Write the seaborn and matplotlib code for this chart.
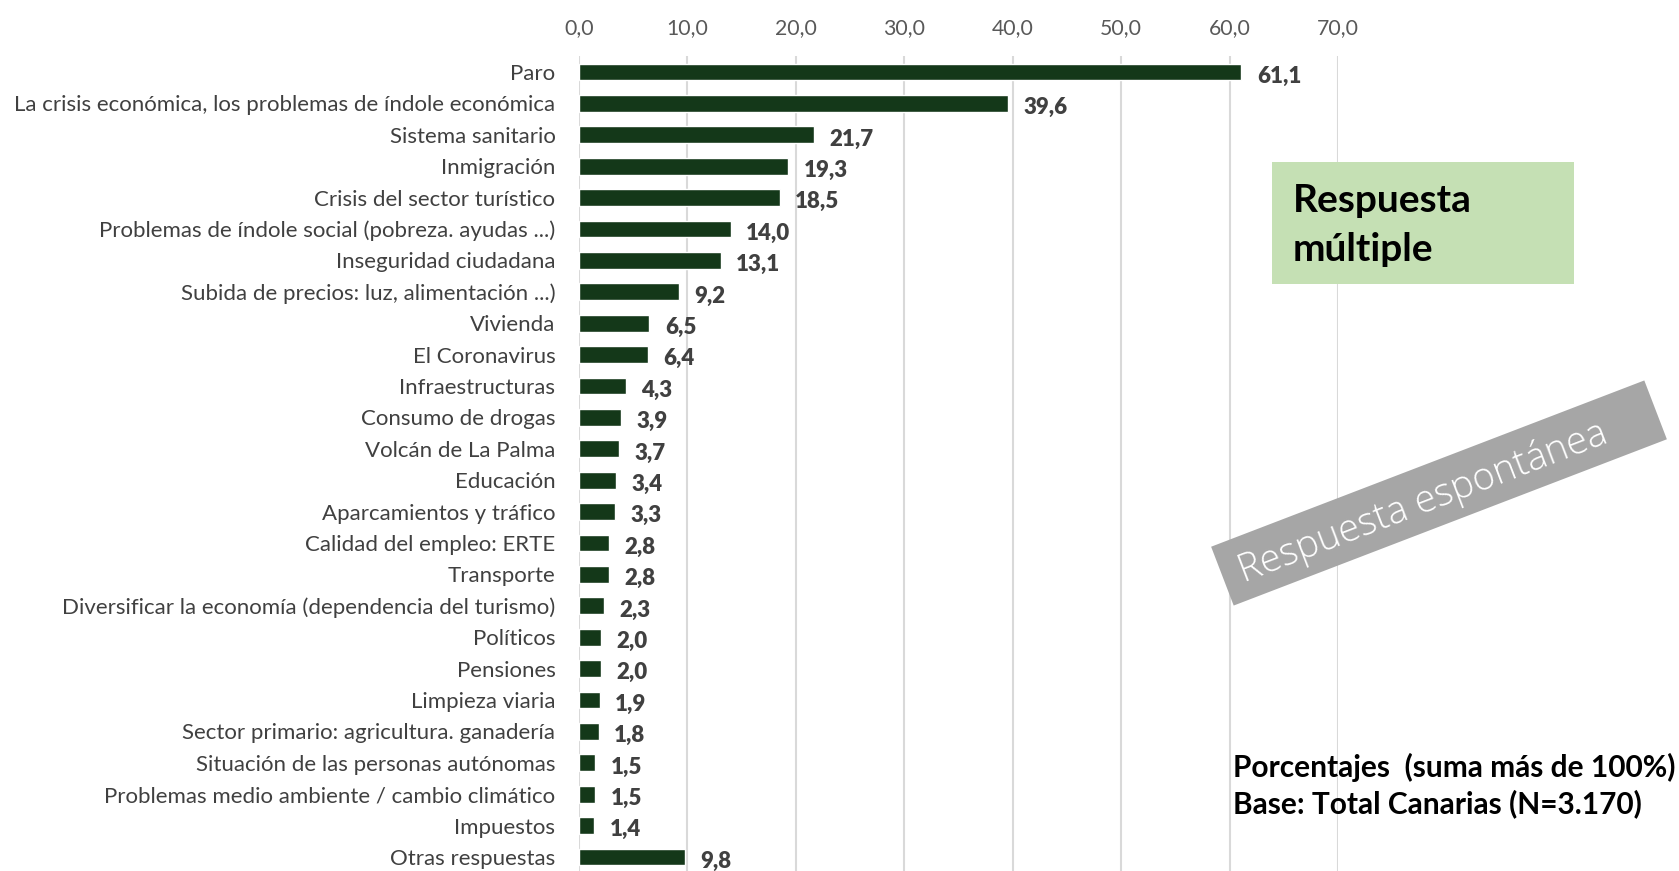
import matplotlib
matplotlib.use("Agg")
import matplotlib.pyplot as plt
from matplotlib.patches import Rectangle
import matplotlib.transforms as mtransforms
import seaborn as sns
import pandas as pd

categories = [
    "Paro",
    "La crisis económica, los problemas de índole económica",
    "Sistema sanitario",
    "Inmigración",
    "Crisis del sector turístico",
    "Problemas de índole social (pobreza. ayudas ...)",
    "Inseguridad ciudadana",
    "Subida de precios: luz, alimentación ...)",
    "Vivienda",
    "El Coronavirus",
    "Infraestructuras",
    "Consumo de drogas",
    "Volcán de La Palma",
    "Educación",
    "Aparcamientos y tráfico",
    "Calidad del empleo: ERTE",
    "Transporte",
    "Diversificar la economía (dependencia del turismo)",
    "Políticos",
    "Pensiones",
    "Limpieza viaria",
    "Sector primario: agricultura. ganadería",
    "Situación de las personas autónomas",
    "Problemas medio ambiente / cambio climático",
    "Impuestos",
    "Otras respuestas",
]
values = [61.1, 39.6, 21.7, 19.3, 18.5, 14.0, 13.1, 9.2, 6.5, 6.4, 4.3, 3.9, 3.7,
          3.4, 3.3, 2.8, 2.8, 2.3, 2.0, 2.0, 1.9, 1.8, 1.5, 1.5, 1.4, 9.8]
x_ticks = [0, 10, 20, 30, 40, 50, 60, 70]

df = pd.DataFrame({"categoria": categories, "porcentaje": values})

sns.set_theme(style="white")
plt.rcParams["font.family"] = ["Lato", "DejaVu Sans"]

W, H = 1679, 871
fig = plt.figure(figsize=(W / 100, H / 100), dpi=100)

n = len(categories)
spacing = (857 - 72) / (n - 1)
top_px = 72 - spacing / 2
bot_px = 857 + spacing / 2
x0_px, x70_px = 579, 1338
ax = fig.add_axes([x0_px / W, 1 - bot_px / H, (x70_px - x0_px) / W, (bot_px - top_px) / H])

bar_color = "#143819"
sns.barplot(data=df, x="porcentaje", y="categoria", orient="h", color=bar_color,
            width=0.53, saturation=1, ax=ax, zorder=3)

ax.set_xlim(0, 70)
ax.set_ylim(n - 0.5, -0.5)
ax.set_xticks(x_ticks)
ax.set_xticklabels([f"{t:.1f}".replace(".", ",") for t in x_ticks], fontsize=15.3, color="#595959")
ax.xaxis.tick_top()
ax.tick_params(axis="x", length=0, pad=13)
ax.tick_params(axis="y", length=0, pad=17, labelsize=16, labelcolor="#404040")
ax.set_xlabel("")
ax.set_ylabel("")
for s in ax.spines.values():
    s.set_visible(False)
ax.grid(axis="x", color="#D9D9D9", linewidth=1.5, zorder=0)
ax.grid(axis="y", visible=False)

# value labels at the end of each bar
for i, v in enumerate(values):
    ax.annotate(f"{v:.1f}".replace(".", ","), xy=(v, i), xytext=(11, -3),
                textcoords="offset points", ha="left", va="center",
                fontsize=16, fontweight="heavy", color="#404040", zorder=4)

# "Respuesta múltiple" box
fig.patches.append(Rectangle((1272 / W, 1 - 284 / H), (1574 - 1272) / W, (284 - 162) / H,
                             transform=fig.transFigure, facecolor="#C5E0B4",
                             edgecolor="none", zorder=5))
fig.text(1293 / W, 1 - 225 / H, "Respuesta\nmúltiple", fontsize=28, fontweight="bold",
         color="black", ha="left", va="center", linespacing=1.45, zorder=6)

# rotated "Respuesta espontánea" band
cx, cy = 1439, 493
bw, bh = 464, 63
angle = 21
rot = mtransforms.Affine2D().rotate_deg_around(cx, H - cy, angle)
band = Rectangle((cx - bw / 2, H - cy - bh / 2), bw, bh, facecolor="#A6A6A6",
                 edgecolor="none", zorder=5)
band.set_transform(rot)
fig.patches.append(band)
fig.text((cx - 16) / W, 1 - (cy + 10) / H, "Respuesta espontánea", fontsize=27.5, color="white",
         rotation=angle, rotation_mode="anchor", ha="center", va="center", zorder=6,
         fontfamily=["Open Sans", "DejaVu Sans"], fontweight="light")

fig.text(1233 / W, 1 - 767 / H, "Porcentajes  (suma más de 100%)", fontsize=21.5,
         fontweight="bold", color="black", ha="left", va="center", zorder=6)
fig.text(1233 / W, 1 - 804 / H, "Base: Total Canarias (N=3.170)", fontsize=21.5,
         fontweight="bold", color="black", ha="left", va="center", zorder=6)

fig.savefig("out.png", dpi=100)
